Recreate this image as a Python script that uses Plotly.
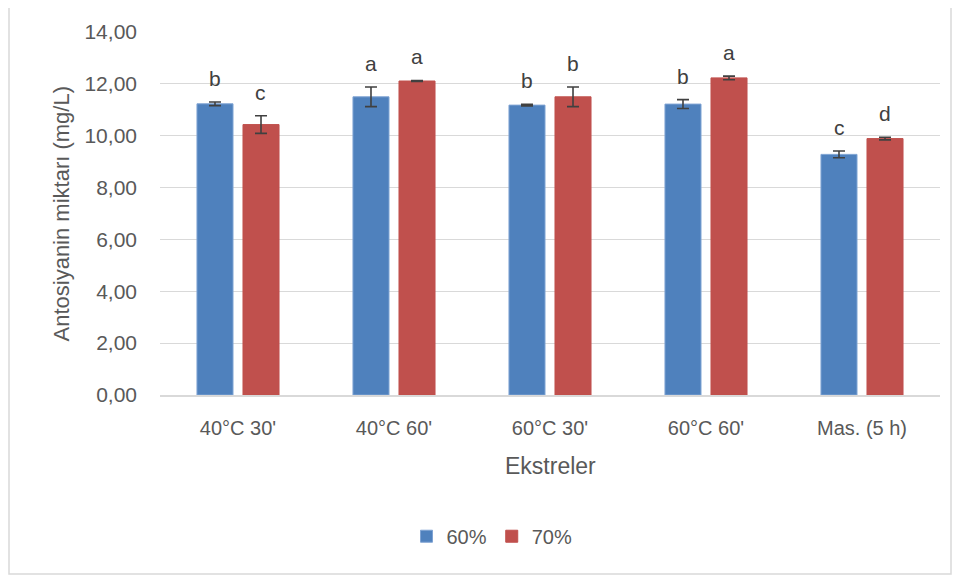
import plotly.graph_objects as go

categories = ["40°C 30'", "40°C 60'", "60°C 30'", "60°C 60'", "Mas. (5 h)"]
series_names = ["60%", "70%"]
values_60 = [11.23, 11.50, 11.18, 11.22, 9.28]
errors_60 = [0.07, 0.38, 0.03, 0.17, 0.13]
letters_60 = ["b", "a", "b", "b", "c"]
values_70 = [10.43, 12.11, 11.50, 12.23, 9.89]
errors_70 = [0.34, 0.02, 0.38, 0.07, 0.05]
letters_70 = ["c", "a", "b", "a", "d"]
y_ticks = [0, 2, 4, 6, 8, 10, 12, 14]
y_tick_labels = ["0,00", "2,00", "4,00", "6,00", "8,00", "10,00", "12,00", "14,00"]
x_title = "Ekstreler"
y_title = "Antosiyanin miktarı (mg/L)"

font_family = "Liberation Sans, Arial, sans-serif"
gray = "#595959"

W, H = 960, 579
L, R, T, B = 152, 28, 22, 192
pw, ph = W - L - R, H - T - B

fig = go.Figure()
for name, vals, errs, col, lcol in [
    (series_names[0], values_60, errors_60, "#4F81BD", "#7FA3D3"),
    (series_names[1], values_70, errors_70, "#C0504D", "#C0504D"),
]:
    fig.add_trace(go.Bar(
        name=name, x=categories, y=vals,
        marker=dict(color=col, line=dict(color=lcol, width=1)),
        error_y=dict(type="data", array=errs, visible=True,
                     color="#404040", thickness=1.6, width=6),
    ))

offset = 0.147
for i in range(len(categories)):
    for vals, errs, lets, sign in [(values_60, errors_60, letters_60, -1),
                                   (values_70, errors_70, letters_70, 1)]:
        fig.add_annotation(
            x=i + sign * offset, y=vals[i] + errs[i], xref="x", yref="y",
            text=lets[i], showarrow=False, yanchor="bottom", yshift=10,
            font=dict(family=font_family, size=21, color="#404040"),
        )

# axis titles
fig.add_annotation(x=0.5, y=(T + ph - 458) / ph, xref="paper", yref="paper",
                   text=x_title, showarrow=False, xanchor="center", yanchor="middle",
                   font=dict(family=font_family, size=23, color=gray))
fig.add_annotation(x=(53 - L) / pw, y=0.5, xref="paper", yref="paper",
                   text=y_title, showarrow=False, textangle=-90,
                   xanchor="center", yanchor="middle",
                   font=dict(family=font_family, size=22, color=gray))

# chart border
fig.add_shape(type="rect", xref="paper", yref="paper",
              x0=(1 - L) / pw, x1=(943 - L) / pw,
              y0=(T + ph - 567) / ph, y1=(T + ph + 5) / ph,
              line=dict(color="#D9D9D9", width=1.5), fillcolor="rgba(0,0,0,0)")

fig.update_layout(
    width=W, height=H,
    margin=dict(l=L, r=R, t=T, b=B),
    paper_bgcolor="white", plot_bgcolor="white",
    barmode="group", bargap=0.41, bargroupgap=0.217,
    font=dict(family=font_family, size=20, color=gray),
    showlegend=True,
    legend=dict(orientation="h", x=(484 - L) / pw, xanchor="center",
                y=(T + ph - 529) / ph, yanchor="middle", itemwidth=30,
                font=dict(size=20, color=gray), traceorder="normal"),
    xaxis=dict(
        showline=True, linecolor="#D9D9D9", linewidth=1.5, ticks="",
        tickfont=dict(size=20, color=gray), ticklabelstandoff=14,
    ),
    yaxis=dict(
        range=[0, 14], tickvals=y_ticks, ticktext=y_tick_labels,
        showgrid=True, gridcolor="#D9D9D9", gridwidth=1, zeroline=False,
        tickfont=dict(size=21, color=gray), ticks="", ticklabelstandoff=22,
    ),
)

fig.write_html("out.html")
